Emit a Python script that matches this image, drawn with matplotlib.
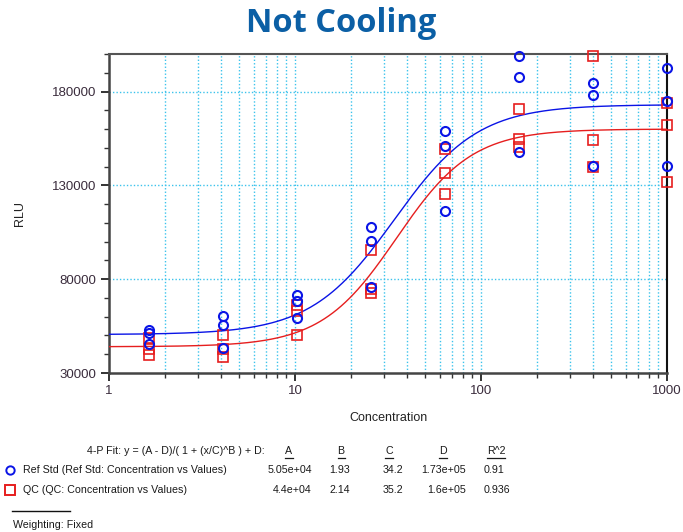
import numpy as np
import matplotlib
matplotlib.use("Agg")
import matplotlib.pyplot as plt
from matplotlib import font_manager
from matplotlib.lines import Line2D
from matplotlib.ticker import LogLocator, MultipleLocator, FixedLocator, NullFormatter

# ---- data -------------------------------------------------------------
concentration = [1.6384, 4.096, 10.24, 25.6, 64, 160, 400, 1000]

ref_std_rep1 = [52900, 60400, 71600, 107900, 159200, 198700, 184800, 192800]
ref_std_rep2 = [51300, 55600, 68400, 100500, 151200, 187500, 178400, 174700]
ref_std_rep3 = [45500, 43300, 59400, 75900, 116500, 148000, 140500, 140500]

qc_rep1 = [48500, 50300, 66300, 95700, 149600, 170900, 198700, 174100]
qc_rep2 = [43000, 42800, 63100, 74800, 136800, 154900, 154400, 161900]
qc_rep3 = [39500, 38500, 50300, 72700, 125500, 150600, 140000, 132000]

series_names = ["Ref Std (Ref Std: Concentration vs Values)",
                "QC (QC: Concentration vs Values)"]
fit_A = [5.05e4, 4.4e4]
fit_B = [1.93, 2.14]
fit_C = [34.2, 35.2]
fit_D = [1.73e5, 1.6e5]
fit_R2 = [0.91, 0.936]

y_ticks = [30000, 80000, 130000, 180000]
x_ticks = [1, 10, 100, 1000]

# ---- fonts ------------------------------------------------------------
def first_font(names):
    for n in names:
        try:
            font_manager.findfont(n, fallback_to_default=False)
            return n
        except Exception:
            pass
    return "DejaVu Sans"

base_font = first_font(["Liberation Sans", "Arial"])
narrow_font = first_font(["Liberation Sans Narrow", "Arial Narrow"])
narrow_size = 9 if narrow_font != "DejaVu Sans" else 7.7
if narrow_font == "DejaVu Sans":
    narrow_font = base_font

plt.rcParams["font.family"] = [base_font, "DejaVu Sans"]

W, H = 683, 532
fig = plt.figure(figsize=(W / 100, H / 100), dpi=100)


def fx(px):
    return px / W


def fy(py):
    return 1 - py / H


ax = fig.add_axes([fx(109), fy(373), fx(667) - fx(109), fy(54) - fy(373)])
ax.set_xscale("log")
ax.set_xlim(1, 1000)
ax.set_ylim(30000, 200000)

blue = "#0a14e6"
red = "#e61e1e"
grid_c = "#3cc3ec"


def four_pl(x, A, B, C, D):
    return (A - D) / (1 + (x / C) ** B) + D


xs = np.logspace(0, 3, 400)
ax.plot(xs, four_pl(xs, fit_A[0], fit_B[0], fit_C[0], fit_D[0]), color=blue, lw=1.0, zorder=3)
ax.plot(xs, four_pl(xs, fit_A[1], fit_B[1], fit_C[1], fit_D[1]), color=red, lw=1.0, zorder=3)

for reps in (qc_rep1, qc_rep2, qc_rep3):
    ax.plot(concentration, reps, ls="none", marker="s", ms=7.5, mfc="none",
            mec=red, mew=1.2, clip_on=False, zorder=4)
for reps in (ref_std_rep1, ref_std_rep2, ref_std_rep3):
    ax.plot(concentration, reps, ls="none", marker="o", ms=6.5, mfc="none",
            mec=blue, mew=1.5, clip_on=False, zorder=5)

# ticks and grid
ax.xaxis.set_major_locator(FixedLocator(x_ticks))
ax.xaxis.set_minor_locator(LogLocator(base=10, subs=np.arange(2, 10)))
ax.xaxis.set_minor_formatter(NullFormatter())
ax.set_xticklabels([str(v) for v in x_ticks])
ax.yaxis.set_major_locator(FixedLocator(y_ticks))
ax.yaxis.set_minor_locator(MultipleLocator(10000))
ax.set_yticklabels([str(v) for v in y_ticks])

ax.tick_params(axis="both", which="major", direction="out", length=6, width=1.4,
               color="#333333", labelsize=9.5, labelcolor="#3a2c3c", pad=3)
ax.tick_params(axis="both", which="minor", direction="out", length=3.5, width=1.0,
               color="#333333")

for xv in [m * 10 ** d for d in range(3) for m in range(2, 11)]:
    if xv < 1000:
        ax.axvline(xv, color=grid_c, lw=1.0, ls=(0, (1, 1.5)), zorder=1)
for yv in y_ticks[1:]:
    ax.axhline(yv, color=grid_c, lw=1.0, ls=(0, (1, 1.5)), zorder=1)

for side in ("left", "bottom"):
    ax.spines[side].set_linewidth(1.8)
    ax.spines[side].set_color("#444444")
ax.spines["top"].set_linewidth(1.5)
ax.spines["top"].set_color("#555555")
ax.spines["right"].set_linewidth(1.5)
ax.spines["right"].set_color("#111111")

fig.text(fx(20), fy(213), "RLU", rotation=90, ha="center", va="center",
         fontsize=9, color="#222222")
fig.text(fx(388), fy(418), "Concentration", ha="center", va="center",
         fontsize=9, color="#222222")

fig.text(0.5, fy(23), "Not Cooling", ha="center", va="center",
         fontsize=23.5, fontweight="bold", color="#0b5fa5",
         family=[first_font(["Open Sans", "DejaVu Sans"])])

# ---- fit parameter table ---------------------------------------------
tkw = dict(fontsize=narrow_size, family=[narrow_font, "DejaVu Sans"], color="#1a1a1a",
           va="center")
fig.text(fx(265), fy(451), "4-P Fit: y = (A - D)/( 1 + (x/C)^B ) + D:", ha="right", **tkw)

headers = [("A", 289), ("B", 341), ("C", 389), ("D", 443), ("R^2", 496)]
renderer = fig.canvas.get_renderer()
for label, cx in headers:
    t = fig.text(fx(cx), fy(451), label, ha="center", **tkw)
    bb = t.get_window_extent(renderer=renderer)
    fig.add_artist(Line2D([bb.x0 / W, bb.x1 / W], [fy(458), fy(458)],
                          transform=fig.transFigure, color="#1a1a1a", lw=0.9))

row_y = [470, 490]
row_marker = ["o", "s"]
row_color = [blue, red]
value_cols = [(fit_A, 312, "right"), (fit_B, 350, "right"), (fit_C, 403, "right"),
              (fit_D, 466, "right"), (fit_R2, 484, "left")]
for i in range(2):
    fig.add_artist(Line2D([fx(10)], [fy(row_y[i])], transform=fig.transFigure,
                          marker=row_marker[i], ms=6 if i == 0 else 7, mfc="none",
                          mec=row_color[i], mew=1.4, ls="none"))
    fig.text(fx(23), fy(row_y[i]), series_names[i], ha="left", **tkw)
    for vals, px, ha in value_cols:
        fig.text(fx(px), fy(row_y[i]), "%.3g" % vals[i], ha=ha, **tkw)

fig.add_artist(Line2D([fx(12), fx(70)], [fy(511), fy(511)], transform=fig.transFigure,
                      color="#111111", lw=1.0))
fig.text(fx(13), fy(525), "Weighting: Fixed", ha="left", **tkw)

fig.savefig("out.png", dpi=100)
